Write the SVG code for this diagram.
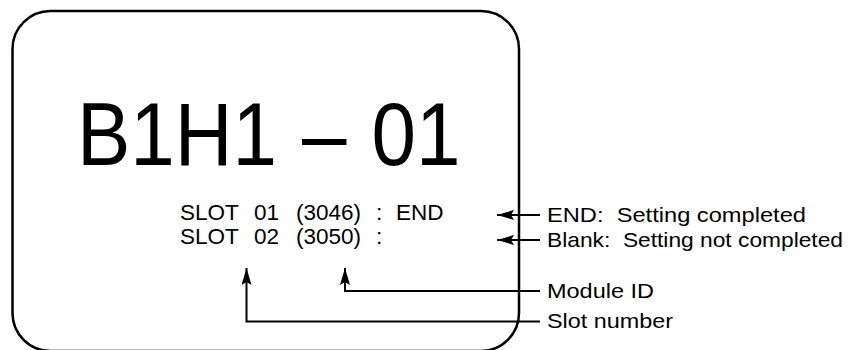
<svg xmlns="http://www.w3.org/2000/svg" width="856" height="350" viewBox="0 0 856 350">
<defs>
<style>
text{font-family:"Liberation Sans",Arial,sans-serif;fill:#000;white-space:pre}
.big{font-size:80px}
.slot{font-size:22.5px}
.lbl{font-size:21px}
.ln{fill:none;stroke:#000;stroke-width:2}
</style>
<marker id="ah" viewBox="0 0 17 10" refX="17" refY="5" markerWidth="17" markerHeight="10" markerUnits="userSpaceOnUse" orient="auto">
<path d="M0,0 L17,5 L0,10 L3,5 Z" fill="#000"/>
</marker>
</defs>
<g id="screen">
<rect x="12.5" y="11" width="506.5" height="340" rx="38" ry="38" fill="none" stroke="#000" stroke-width="2.5"/>
</g>
<g id="title">
<text class="big" transform="translate(0,165) scale(1,1.1)"><tspan x="77">B1H1</tspan><tspan x="302">–</tspan><tspan x="371.5">01</tspan></text>
</g>
<g id="slots">
<text class="slot" y="220"><tspan x="180">SLOT</tspan><tspan x="254">01</tspan><tspan x="296">(3046)</tspan><tspan x="376">:</tspan><tspan x="396">END</tspan></text>
<text class="slot" y="244"><tspan x="180">SLOT</tspan><tspan x="254">02</tspan><tspan x="296">(3050)</tspan><tspan x="376">:</tspan></text>
</g>
<g id="labels">
<text class="lbl" xml:space="preserve" x="547" y="222" textLength="259" lengthAdjust="spacingAndGlyphs">END:  Setting completed</text>
<text class="lbl" xml:space="preserve" x="547" y="247" textLength="296" lengthAdjust="spacingAndGlyphs">Blank:  Setting not completed</text>
<text class="lbl" x="547" y="298" textLength="107" lengthAdjust="spacingAndGlyphs">Module ID</text>
<text class="lbl" x="547" y="328" textLength="126" lengthAdjust="spacingAndGlyphs">Slot number</text>
</g>
<g id="connectors">
<path class="ln" d="M540,215 L497,215" marker-end="url(#ah)"/>
<path class="ln" d="M540,240 L497,240" marker-end="url(#ah)"/>
<path class="ln" d="M540,291 L345,291 L345,268" marker-end="url(#ah)"/>
<path class="ln" d="M540,321.5 L246.5,321.5 L246.5,268" marker-end="url(#ah)"/>
</g>
</svg>
